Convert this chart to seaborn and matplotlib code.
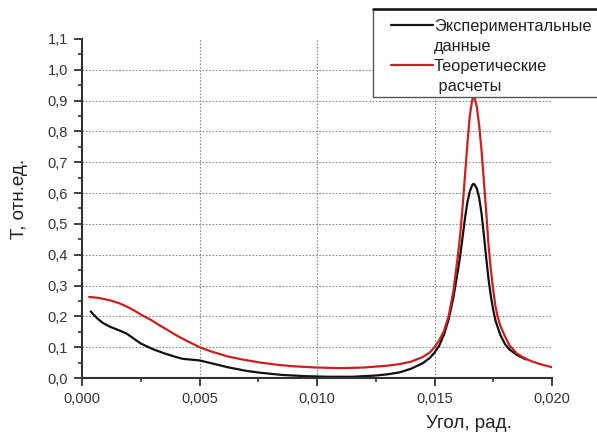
import matplotlib
matplotlib.use("Agg")
import matplotlib.pyplot as plt
from matplotlib.lines import Line2D
from matplotlib.patches import Rectangle
from matplotlib.ticker import MultipleLocator, FuncFormatter
import seaborn as sns
import pandas as pd

# Experimental transmission vs. angle
exp_angle = [0.00037, 0.0005, 0.0007, 0.0009, 0.0012, 0.0016, 0.0019, 0.0022,
             0.0025, 0.0030, 0.0035, 0.0040, 0.0043, 0.0046, 0.0050, 0.0055,
             0.0062, 0.0070, 0.0076, 0.0085, 0.0095, 0.0105, 0.0115, 0.0125,
             0.0130, 0.0135, 0.0140, 0.0145, 0.0148, 0.0150, 0.0152, 0.0154,
             0.0156, 0.0158, 0.0160, 0.0161, 0.0162, 0.0163, 0.0164, 0.0165,
             0.0166, 0.01665, 0.0167, 0.0168, 0.0169, 0.0170, 0.0171, 0.0172,
             0.0173, 0.0174, 0.0175, 0.0176, 0.0178, 0.0180, 0.0182, 0.0185,
             0.0189]
exp_T = [0.216, 0.205, 0.190, 0.178, 0.166, 0.154, 0.144, 0.128,
         0.112, 0.094, 0.080, 0.068, 0.062, 0.060, 0.057, 0.048,
         0.035, 0.023, 0.017, 0.010, 0.006, 0.004, 0.004, 0.008,
         0.012, 0.018, 0.030, 0.048, 0.065, 0.082, 0.105, 0.140,
         0.190, 0.260, 0.350, 0.400, 0.460, 0.520, 0.570, 0.605,
         0.625, 0.630, 0.628, 0.615, 0.585, 0.535, 0.465, 0.390,
         0.320, 0.265, 0.220, 0.185, 0.140, 0.110, 0.092, 0.075,
         0.060]

# Theoretical transmission vs. angle
theo_angle = [0.0003, 0.0007, 0.0012, 0.0016, 0.0019, 0.0022, 0.0025, 0.0029,
              0.0033, 0.0037, 0.0040, 0.0045, 0.0050, 0.0055, 0.0062, 0.0069,
              0.0076, 0.0083, 0.0090, 0.0100, 0.0110, 0.0120, 0.0130, 0.0135,
              0.0140, 0.0145, 0.0148, 0.0150, 0.0152, 0.0154, 0.0156, 0.0158,
              0.0160, 0.0161, 0.0162, 0.0163, 0.0164, 0.0165, 0.0166, 0.01665,
              0.0167, 0.0168, 0.0169, 0.0170, 0.0171, 0.0172, 0.0173, 0.0174,
              0.0175, 0.0176, 0.0177, 0.0178, 0.0180, 0.0182, 0.0185, 0.0188,
              0.0191, 0.0195, 0.0200]
theo_T = [0.263, 0.260, 0.252, 0.242, 0.232, 0.220, 0.206, 0.190,
          0.171, 0.153, 0.139, 0.119, 0.100, 0.086, 0.070, 0.059,
          0.050, 0.043, 0.038, 0.034, 0.032, 0.034, 0.040, 0.045,
          0.053, 0.068, 0.083, 0.100, 0.122, 0.152, 0.200, 0.280,
          0.400, 0.470, 0.560, 0.660, 0.760, 0.850, 0.900, 0.912,
          0.910, 0.880, 0.820, 0.740, 0.640, 0.540, 0.430, 0.350,
          0.285, 0.230, 0.195, 0.170, 0.135, 0.105, 0.080, 0.066,
          0.055, 0.045, 0.035]

labels = ["Экспериментальные", "данные", "Теоретические", " расчеты"]
x_label = "Угол, рад."
y_label = "Т, отн.ед."

sns.set_style("ticks")
plt.rcParams["font.family"] = ["Liberation Sans", "DejaVu Sans"]

W, H = 597, 432
fig = plt.figure(figsize=(W / 100, H / 100), dpi=100)
ax = fig.add_axes([82 / W, 1 - 378 / H, (552 - 82) / W, (378 - 39) / H])

black = "#111111"
red = "#cc1f1f"
df_exp = pd.DataFrame({"angle": exp_angle, "T": exp_T})
df_theo = pd.DataFrame({"angle": theo_angle, "T": theo_T})
sns.lineplot(data=df_exp, x="angle", y="T", ax=ax, color=black, lw=1.6, sort=False)
sns.lineplot(data=df_theo, x="angle", y="T", ax=ax, color=red, lw=1.6, sort=False)

ax.set_xlim(0, 0.020)
ax.set_ylim(0, 1.1)
ax.xaxis.set_major_locator(MultipleLocator(0.005))
ax.xaxis.set_minor_locator(MultipleLocator(0.0025))
ax.yaxis.set_major_locator(MultipleLocator(0.1))
ax.yaxis.set_minor_locator(MultipleLocator(0.05))
ax.xaxis.set_major_formatter(FuncFormatter(lambda v, p: f"{v:.3f}".replace(".", ",")))
ax.yaxis.set_major_formatter(FuncFormatter(lambda v, p: f"{v:.1f}".replace(".", ",")))

for s in ("top", "right"):
    ax.spines[s].set_visible(False)
for s in ("left", "bottom"):
    ax.spines[s].set_color("#333333")
    ax.spines[s].set_linewidth(1.5)
ax.tick_params(which="major", direction="out", length=6, width=1.3, color="#333333",
               labelsize=10.5, labelcolor="#333333", pad=4)
ax.tick_params(which="minor", direction="out", length=3, width=1.2, color="#333333")

# dotted grid on interior major ticks only
ax.grid(True, which="major", ls=(0, (1.5, 1.5)), lw=0.8, color="#8a8a8a")
fig.canvas.draw()
for axis, (lo, hi) in ((ax.xaxis, ax.get_xlim()), (ax.yaxis, ax.get_ylim())):
    span = hi - lo
    for tick in axis.get_major_ticks():
        loc = tick.get_loc()
        if abs(loc - lo) < 1e-6 * span or abs(loc - hi) < 1e-6 * span:
            tick.gridline.set_visible(False)

ax.set_xlabel("")
ax.set_ylabel("")
fig.text(469 / W, 1 - 423 / H, x_label, ha="center", va="center", fontsize=13.5, color="#222222")
fig.text(20 / W, 1 - 199 / H, y_label, ha="center", va="center", rotation=90,
         fontsize=13.5, color="#222222")

# legend box, running past the right edge of the figure
fig.patches.append(Rectangle((373 / W, 1 - 97 / H), 300 / W, 88 / H, transform=fig.transFigure,
                             facecolor="white", edgecolor="#555555", lw=1.0, zorder=5))
fig.lines.append(Line2D([373 / W, 1.0], [1 - 9 / H] * 2, transform=fig.transFigure,
                        color="#111111", lw=1.8, zorder=6))
fig.lines.append(Line2D([391 / W, 433 / W], [1 - 25 / H] * 2, transform=fig.transFigure,
                        color=black, lw=1.6, zorder=6))
fig.lines.append(Line2D([391 / W, 433 / W], [1 - 65 / H] * 2, transform=fig.transFigure,
                        color=red, lw=1.6, zorder=6))
for txt, y in zip(labels, (26, 46, 66, 86)):
    fig.text(434 / W, 1 - y / H, txt, ha="left", va="center", fontsize=11.8,
             color="#222222", zorder=7)

fig.savefig("out.png", dpi=100)
